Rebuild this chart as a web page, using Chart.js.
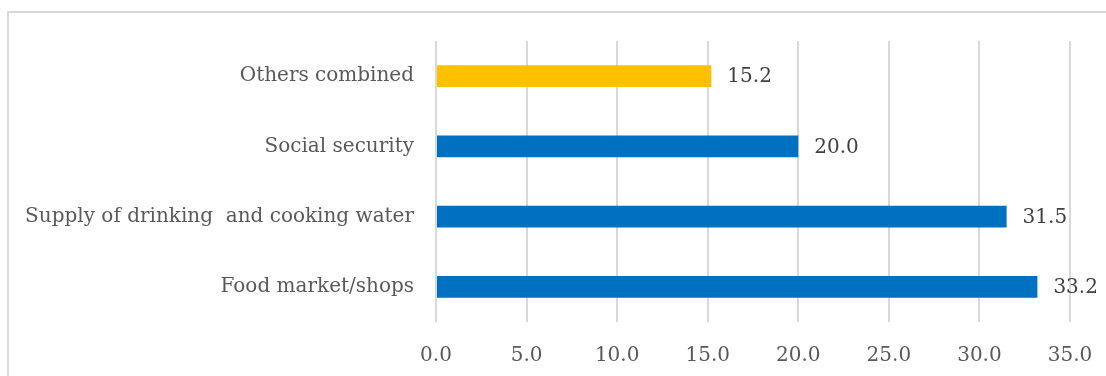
<!DOCTYPE html>
<html>
<head>
<meta charset="utf-8">
<script src="https://cdn.jsdelivr.net/npm/chart.js@4.4.1/dist/chart.umd.min.js"></script>
<style>
    html, body { margin: 0; padding: 0; background: #fff; }
    #wrap { position: relative; width: 1106px; height: 376px; overflow: hidden; }
    #frame { position: absolute; left: 7px; top: 11px; width: 1200px; height: 500px; border: 2px solid #d9d9d9; box-sizing: border-box; }
    #chart { position: absolute; left: 0; top: 0; }
</style>
</head>
<body>
<div id="wrap">
    <div id="frame"></div>
    <canvas id="chart" width="1106" height="376"></canvas>
</div>
<script>
// DATA ###############################################################
var categories = ['Others combined', 'Social security', 'Supply of drinking  and cooking water', 'Food market/shops'];
var values = [15.2, 20.0, 31.5, 33.2];
var barColors = ['#FFC000', '#0070C0', '#0070C0', '#0070C0'];
var xTicks = [0, 5, 10, 15, 20, 25, 30, 35];

var fontFamily = '"DejaVu Serif", serif';
var fontSize = 20;

// value labels next to each bar
var valueLabels = {
    id: 'valueLabels',
    afterDatasetsDraw: function(chart) {
        var ctx = chart.ctx;
        var meta = chart.getDatasetMeta(0);
        ctx.save();
        ctx.font = fontSize + 'px ' + fontFamily;
        ctx.fillStyle = '#404040';
        ctx.textAlign = 'left';
        ctx.textBaseline = 'middle';
        meta.data.forEach(function(bar, i) {
            ctx.fillText(values[i].toFixed(1), bar.x + 16, bar.y + 1);
        });
        ctx.restore();
    }
};

document.addEventListener('DOMContentLoaded', function() {
    var ctx = document.getElementById('chart').getContext('2d');

    new Chart(ctx, {
        type: 'bar',
        data: {
            labels: categories,
            datasets: [{
                data: values,
                backgroundColor: barColors,
                borderWidth: 0,
                barPercentage: 0.62,
                categoryPercentage: 0.5
            }]
        },
        options: {
            indexAxis: 'y',
            responsive: false,
            animation: false,
            layout: { padding: { top: 41, right: 36, left: 0, bottom: 0 } },
            plugins: {
                legend: { display: false },
                tooltip: { enabled: false }
            },
            scales: {
                x: {
                    min: 0,
                    max: 35,
                    afterBuildTicks: function(axis) {
                        axis.ticks = xTicks.map(function(v) { return { value: v }; });
                    },
                    afterFit: function(axis) {
                        axis.height = 54;
                        axis.paddingLeft = 0;
                        axis.paddingRight = 0;
                    },
                    grid: { color: '#d9d9d9', lineWidth: 2, drawTicks: false },
                    border: { display: false },
                    ticks: {
                        padding: 22,
                        color: '#595959',
                        font: { family: fontFamily, size: fontSize },
                        callback: function(v) { return Number(v).toFixed(1); }
                    }
                },
                y: {
                    afterFit: function(axis) { axis.width = 436; },
                    grid: { display: false, drawTicks: false },
                    border: { display: false },
                    ticks: {
                        padding: 22,
                        color: '#595959',
                        font: { family: fontFamily, size: fontSize }
                    }
                }
            }
        },
        plugins: [valueLabels]
    });
});
</script>
</body>
</html>
